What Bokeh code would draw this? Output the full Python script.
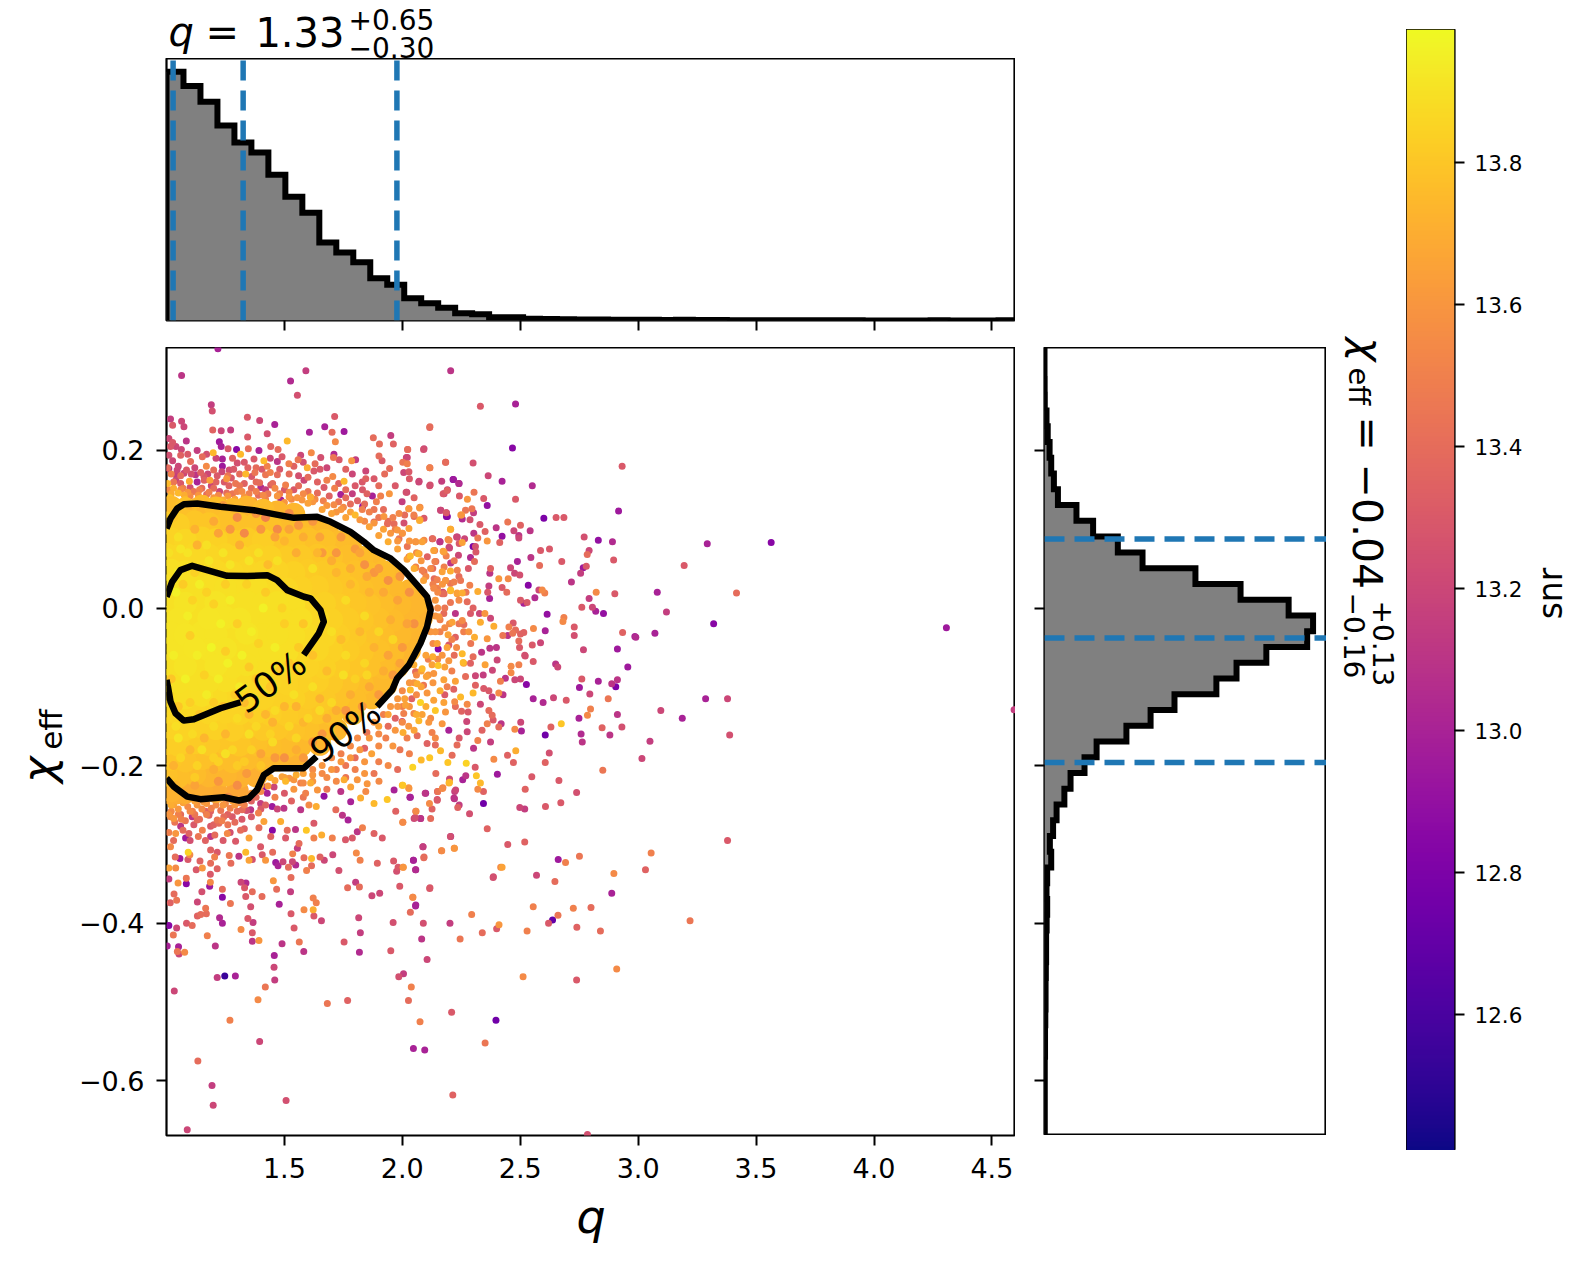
import numpy as np
from bokeh.embed import file_html
from bokeh.layouts import column, row
from bokeh.models import ColumnDataSource, FixedTicker, Label, LinearColorMapper, Range1d, Spacer
from bokeh.palettes import Plasma256
from bokeh.plotting import figure
from bokeh.resources import INLINE

Q_RANGE = (1.0, 4.6)
CHI_RANGE = (-0.6694, 0.3306)
SNR_RANGE = (12.409, 13.988)

q_ticks = [1.5, 2.0, 2.5, 3.0, 3.5, 4.0, 4.5]
q_tick_labels = ["1.5", "2.0", "2.5", "3.0", "3.5", "4.0", "4.5"]
chi_ticks = [-0.6, -0.4, -0.2, 0.0, 0.2]
chi_tick_labels = ["\u22120.6", "\u22120.4", "\u22120.2", "0.0", "0.2"]
snr_ticks = [12.6, 12.8, 13.0, 13.2, 13.4, 13.6, 13.8]
snr_tick_labels = ["12.6", "12.8", "13.0", "13.2", "13.4", "13.6", "13.8"]

# marginal histograms (normalised to their peak), 50 bins each
q_hist = [0.997, 0.94, 0.877, 0.781, 0.713, 0.673, 0.584, 0.496, 0.432, 0.313,
          0.273, 0.233, 0.169, 0.143, 0.089, 0.069, 0.051, 0.029, 0.025, 0.013,
          0.013, 0.007, 0.006, 0.005, 0.004, 0.004, 0.003, 0.003, 0.003, 0.002,
          0.003, 0.002, 0.002, 0.001, 0.001, 0.001, 0.001, 0.001, 0.001, 0.001,
          0.001, 0.0, 0.0, 0.0, 0.0, 0.001, 0.0, 0.0, 0.0, 0.001]
# listed from the top bin (largest chi) to the bottom one
chi_hist_top_down = [0.0, 0.0, 0.0005, 0.001, 0.0075, 0.012, 0.019, 0.025, 0.035, 0.05,
                     0.119, 0.181, 0.273, 0.365, 0.562, 0.73, 0.909, 1.0, 0.978, 0.826,
                     0.715, 0.64, 0.484, 0.395, 0.305, 0.194, 0.149, 0.097, 0.074, 0.045,
                     0.032, 0.02, 0.025, 0.01, 0.0075, 0.01, 0.008, 0.006, 0.006, 0.005,
                     0.004, 0.004, 0.003, 0.002, 0.002, 0.001, 0.001, 0.001, 0.001, 0.001]

q_quantiles = [1.028, 1.325, 1.977]
chi_quantiles = [0.0875, -0.038, -0.196]

# contours (q, chi): each level is broken where its label sits
contour_90_a = [(1.000, 0.1009), (1.017, 0.1136), (1.045, 0.1263), (1.074, 0.1318), (1.130, 0.1326),
                (1.229, 0.1284), (1.370, 0.1241), (1.455, 0.1191), (1.540, 0.1144), (1.639, 0.1157),
                (1.696, 0.1094), (1.780, 0.0967), (1.837, 0.0840), (1.879, 0.0734), (1.950, 0.0629),
                (2.007, 0.0481), (2.063, 0.0290), (2.105, 0.0143), (2.120, -0.0026), (2.105, -0.0237),
                (2.077, -0.0448), (2.028, -0.0723), (1.978, -0.0892), (1.957, -0.104), (1.893, -0.125)]
contour_90_b = [(1.636, -0.1885), (1.582, -0.2033), (1.512, -0.2033), (1.455, -0.2033), (1.413, -0.2118),
                (1.384, -0.2308), (1.349, -0.2414), (1.307, -0.2443), (1.243, -0.2401), (1.144, -0.2426),
                (1.088, -0.2393), (1.031, -0.2266), (1.000, -0.2160)]
contour_50_a = [(1.000, 0.0143), (1.024, 0.0333), (1.059, 0.0481), (1.109, 0.0536), (1.172, 0.0481),
                (1.257, 0.0409), (1.342, 0.0405), (1.427, 0.0417), (1.469, 0.0354), (1.512, 0.0227),
                (1.583, 0.0143), (1.611, 0.0122), (1.653, -0.0026), (1.667, -0.0174), (1.646, -0.0321),
                (1.582, -0.0596)]
contour_50_b = [(1.314, -0.1196), (1.229, -0.1272), (1.116, -0.1412), (1.073, -0.1429), (1.038, -0.1336),
                (1.017, -0.1188), (1.006, -0.0998), (1.000, -0.0913)]

# dense centre of the cloud (q, chi, snr), drawn as wider dots
core_points = [
    (1.02,.128,13.76),(1.08,.126,13.78),(1.15,.129,13.75),(1.21,.127,13.77),(1.28,.125,13.75),(1.34,.128,13.73),(1.41,.124,13.76),(1.47,.122,13.74),(1.54,.119,13.74),
    (1.00,.108,13.82),(1.05,.106,13.83),(1.12,.109,13.80),(1.18,.107,13.80),(1.25,.108,13.78),(1.31,.106,13.78),(1.38,.107,13.78),(1.44,.105,13.78),(1.51,.104,13.76),(1.57,.106,13.76),(1.64,.103,13.74),(1.68,.098,13.75),
    (1.02,.088,13.85),(1.08,.086,13.86),(1.15,.089,13.84),(1.21,.087,13.84),(1.28,.085,13.82),(1.34,.088,13.82),(1.41,.086,13.83),(1.47,.087,13.80),(1.54,.085,13.80),(1.60,.088,13.78),(1.67,.086,13.78),(1.73,.084,13.76),(1.78,.082,13.75),
    (1.00,.068,13.87),(1.05,.066,13.87),(1.12,.069,13.87),(1.18,.067,13.86),(1.25,.068,13.85),(1.31,.066,13.85),(1.38,.067,13.84),(1.44,.065,13.84),(1.51,.064,13.82),(1.57,.066,13.81),(1.64,.067,13.80),(1.70,.065,13.79),(1.77,.066,13.77),(1.83,.064,13.76),(1.88,.061,13.75),
    (1.02,.048,13.89),(1.08,.046,13.89),(1.15,.046,13.88),(1.21,.047,13.87),(1.28,.045,13.87),(1.34,.048,13.86),(1.41,.046,13.86),(1.47,.047,13.85),(1.54,.045,13.84),(1.60,.048,13.82),(1.67,.046,13.81),(1.73,.044,13.80),(1.80,.046,13.78),(1.86,.044,13.77),(1.92,.046,13.76),(1.96,.042,13.75),
    (1.00,.028,13.89),(1.05,.026,13.90),(1.12,.027,13.90),(1.18,.027,13.89),(1.25,.026,13.90),(1.31,.026,13.89),(1.38,.027,13.89),(1.44,.025,13.88),(1.51,.024,13.86),(1.57,.026,13.84),(1.64,.027,13.83),(1.70,.025,13.81),(1.77,.026,13.80),(1.83,.024,13.78),(1.90,.026,13.77),(1.96,.024,13.75),(2.03,.022,13.74),
    (1.02,.008,13.90),(1.08,.006,13.91),(1.15,.009,13.90),(1.21,.007,13.91),(1.28,.005,13.90),(1.34,.008,13.90),(1.41,.006,13.90),(1.47,.007,13.90),(1.54,.005,13.89),(1.60,.004,13.86),(1.67,.006,13.84),(1.73,.004,13.82),(1.80,.006,13.80),(1.86,.004,13.79),(1.92,.006,13.77),(1.99,.004,13.75),(2.05,.003,13.74),(2.07,.010,13.73),
    (1.00,-.012,13.90),(1.05,-.014,13.91),(1.12,-.011,13.90),(1.18,-.013,13.92),(1.25,-.012,13.91),(1.31,-.014,13.91),(1.38,-.013,13.90),(1.44,-.015,13.90),(1.51,-.016,13.89),(1.57,-.014,13.89),(1.64,-.013,13.87),(1.70,-.015,13.84),(1.77,-.014,13.82),(1.83,-.016,13.80),(1.90,-.014,13.78),(1.96,-.016,13.76),(2.03,-.018,13.74),(2.08,-.013,13.72),
    (1.02,-.032,13.91),(1.08,-.034,13.92),(1.15,-.031,13.91),(1.21,-.033,13.91),(1.28,-.035,13.90),(1.34,-.032,13.91),(1.41,-.034,13.90),(1.47,-.033,13.90),(1.54,-.035,13.89),(1.60,-.034,13.88),(1.67,-.036,13.86),(1.73,-.034,13.83),(1.80,-.036,13.81),(1.86,-.034,13.79),(1.92,-.036,13.77),(1.99,-.034,13.75),(2.05,-.036,13.73),
    (1.00,-.052,13.90),(1.05,-.054,13.91),(1.12,-.051,13.92),(1.18,-.053,13.91),(1.25,-.052,13.91),(1.31,-.054,13.90),(1.38,-.053,13.90),(1.44,-.055,13.90),(1.51,-.056,13.89),(1.57,-.054,13.87),(1.64,-.053,13.86),(1.70,-.055,13.84),(1.77,-.054,13.82),(1.83,-.056,13.80),(1.90,-.054,13.78),(1.96,-.056,13.76),(2.03,-.054,13.73),
    (1.02,-.072,13.90),(1.08,-.074,13.91),(1.15,-.071,13.90),(1.21,-.073,13.91),(1.28,-.075,13.90),(1.34,-.072,13.90),(1.41,-.074,13.89),(1.47,-.073,13.87),(1.54,-.075,13.86),(1.60,-.074,13.85),(1.67,-.076,13.84),(1.73,-.074,13.82),(1.80,-.076,13.80),(1.86,-.074,13.78),(1.92,-.076,13.76),(1.98,-.074,13.74),
    (1.00,-.092,13.88),(1.05,-.094,13.90),(1.12,-.091,13.90),(1.18,-.093,13.90),(1.25,-.092,13.89),(1.31,-.094,13.88),(1.38,-.093,13.87),(1.44,-.095,13.86),(1.51,-.096,13.85),(1.57,-.094,13.84),(1.64,-.093,13.83),(1.70,-.095,13.81),(1.77,-.094,13.79),(1.83,-.096,13.77),(1.90,-.094,13.75),(1.93,-.098,13.74),
    (1.02,-.112,13.87),(1.08,-.114,13.89),(1.15,-.111,13.89),(1.21,-.113,13.88),(1.28,-.115,13.87),(1.34,-.112,13.86),(1.41,-.114,13.85),(1.47,-.113,13.84),(1.54,-.115,13.84),(1.60,-.114,13.82),(1.67,-.116,13.81),(1.73,-.114,13.79),(1.80,-.116,13.77),(1.87,-.114,13.75),
    (1.00,-.132,13.86),(1.05,-.134,13.87),(1.12,-.131,13.87),(1.18,-.133,13.86),(1.25,-.132,13.85),(1.31,-.134,13.85),(1.38,-.133,13.84),(1.44,-.135,13.83),(1.51,-.136,13.82),(1.57,-.134,13.81),(1.64,-.133,13.80),(1.70,-.135,13.78),(1.79,-.134,13.75),
    (1.02,-.152,13.85),(1.08,-.154,13.85),(1.15,-.151,13.84),(1.21,-.153,13.84),(1.28,-.155,13.83),(1.34,-.152,13.82),(1.41,-.154,13.81),(1.47,-.153,13.80),(1.54,-.155,13.79),(1.60,-.154,13.78),(1.67,-.156,13.76),(1.72,-.154,13.74),
    (1.00,-.172,13.83),(1.05,-.174,13.83),(1.12,-.171,13.82),(1.18,-.173,13.81),(1.25,-.172,13.80),(1.31,-.174,13.80),(1.38,-.173,13.78),(1.44,-.175,13.77),(1.51,-.176,13.76),(1.57,-.174,13.75),(1.65,-.173,13.73),
    (1.02,-.192,13.80),(1.08,-.194,13.79),(1.15,-.191,13.78),(1.21,-.193,13.77),(1.28,-.195,13.77),(1.34,-.192,13.76),(1.41,-.194,13.75),(1.47,-.193,13.74),(1.55,-.192,13.72),
    (1.00,-.212,13.78),(1.05,-.214,13.77),(1.12,-.211,13.76),(1.18,-.213,13.74),(1.25,-.212,13.74),(1.31,-.214,13.72),(1.38,-.213,13.71),
    (1.02,-.232,13.72),(1.08,-.234,13.70),(1.15,-.231,13.70),(1.21,-.233,13.69),(1.30,-.232,13.67),
]

# single dots that break up the flat colour of the centre
texture_points = [
    (1.04,.02,13.96),(1.09,-.01,13.95),(1.14,.03,13.95),(1.19,-.05,13.97),(1.23,-.02,13.96),(1.27,.01,13.95),(1.32,-.06,13.96),(1.36,-.03,13.95),(1.41,.00,13.96),(1.46,-.05,13.95),
    (1.03,-.06,13.95),(1.08,-.09,13.96),(1.13,-.06,13.95),(1.17,-.11,13.94),(1.22,-.09,13.95),(1.26,-.07,13.96),(1.31,-.10,13.94),(1.05,.045,13.94),(1.11,.01,13.85),(1.17,.02,13.84),
    (1.25,.03,13.83),(1.34,.03,13.84),(1.42,.02,13.82),(1.50,-.02,13.83),(1.56,-.05,13.82),(1.48,-.08,13.81),(1.38,-.09,13.82),(1.29,-.11,13.81),(1.20,-.12,13.82),(1.10,-.12,13.83),
    (1.05,.09,13.90),(1.12,.10,13.72),(1.20,.11,13.68),(1.27,.10,13.60),(1.33,.095,13.55),(1.40,.10,13.60),(1.46,.09,13.66),(1.52,.10,13.66),(1.58,.09,13.70),(1.65,.09,13.66),
    (1.09,.07,13.91),(1.17,.08,13.90),(1.24,.07,13.91),(1.31,.08,13.70),(1.39,.07,13.90),(1.47,.06,13.90),(1.55,.07,13.70),(1.62,.05,13.89),(1.70,.06,13.70),(1.78,.05,13.70),
    (1.85,.04,13.68),(1.92,.02,13.68),(1.98,.01,13.66),(2.02,-.02,13.66),(1.96,-.04,13.86),(1.90,-.03,13.86),(1.84,-.01,13.88),(1.76,.01,13.88),(1.70,-.03,13.89),(1.76,-.06,13.88),
    (1.84,-.07,13.86),(1.92,-.08,13.70),(1.86,-.10,13.68),(1.78,-.11,13.70),(1.70,-.12,13.87),(1.62,-.10,13.89),(1.54,-.11,13.90),(1.46,-.13,13.88),(1.38,-.15,13.87),(1.30,-.14,13.88),
    (1.20,-.15,13.88),(1.11,-.16,13.88),(1.04,-.15,13.89),(1.06,-.19,13.86),(1.13,-.20,13.85),(1.20,-.19,13.84),(1.28,-.18,13.86),(1.36,-.18,13.84),(1.44,-.16,13.85),(1.52,-.15,13.86),
    (1.60,-.14,13.86),(1.68,-.14,13.70),(1.55,-.18,13.70),(1.46,-.19,13.62),(1.34,-.21,13.62),(1.22,-.22,13.60),(1.12,-.225,13.66),(1.04,-.225,13.74),(1.16,-.245,13.62),(1.26,-.24,13.58),
    (1.40,-.20,13.80),(1.30,-.20,13.82),(1.62,-.17,13.62),(1.72,-.13,13.70),(1.80,-.09,13.84),(1.94,-.06,13.66),(2.00,-.05,13.62),(2.05,-.02,13.58),(2.03,.02,13.58),(1.99,.04,13.60),
    (1.90,.05,13.62),(1.82,.07,13.66),(1.74,.09,13.62),(1.62,.11,13.60),(1.52,.12,13.55),(1.38,.12,13.60),(1.24,.13,13.62),(1.10,.13,13.74),(1.03,.115,13.80),(1.01,.07,13.90),
]

texture_points_2 = [
    (1.07,.03,13.82),(1.12,.045,13.84),(1.20,.005,13.84),(1.30,-.02,13.83),(1.39,-.045,13.84),(1.49,.00,13.84),(1.58,-.02,13.80),(1.10,-.035,13.83),(1.16,-.085,13.84),(1.25,-.055,13.83),
    (1.35,-.075,13.81),(1.44,-.10,13.80),(1.52,-.07,13.80),(1.62,-.06,13.78),(1.68,-.08,13.76),(1.74,-.04,13.76),(1.82,-.03,13.74),(1.88,-.05,13.72),(1.95,-.015,13.70),(1.99,-.07,13.66),
    (1.78,.03,13.74),(1.86,.02,13.72),(1.72,.045,13.74),(1.64,.07,13.74),(1.50,.085,13.74),(1.43,.055,13.76),(1.35,.06,13.92),(1.27,.055,13.92),(1.18,.06,13.92),(1.06,.075,13.92),
    (1.13,.08,13.72),(1.22,.095,13.66),(1.30,.115,13.55),(1.42,.115,13.50),(1.47,.10,13.55),(1.56,.105,13.60),(1.66,.07,13.62),(1.72,.07,13.60),(1.80,.075,13.62),(1.88,.045,13.60),
    (1.94,.035,13.58),(1.84,.055,13.58),(1.96,-.085,13.62),(1.90,-.11,13.62),(1.83,-.125,13.62),(1.76,-.13,13.60),(1.66,-.16,13.60),(1.58,-.19,13.62),(1.50,-.19,13.58),(1.40,-.185,13.66),
    (1.30,-.225,13.56),(1.20,-.205,13.70),(1.10,-.18,13.74),(1.03,-.20,13.72),(1.16,-.165,13.74),(1.25,-.16,13.74),(1.35,-.135,13.74),(1.45,-.145,13.72),(1.55,-.125,13.72),(1.65,-.115,13.72),
    (1.02,-.09,13.80),(1.05,-.125,13.80),(1.14,-.135,13.80),(1.24,-.125,13.78),(1.33,-.12,13.76),(1.42,-.135,13.74),(1.50,-.125,13.74),(1.58,-.145,13.74),(1.35,-.16,13.90),(1.25,-.185,13.90),
    (1.15,-.18,13.90),(1.05,-.165,13.92),(1.45,-.17,13.88),(1.55,-.165,13.86),(1.12,-.215,13.82),(1.22,-.195,13.84),(1.33,-.195,13.82),(1.65,-.13,13.88),(1.75,-.085,13.90),(1.85,-.085,13.86),
]

# thick bands of single dots around the centre (q, chi, snr)
band_points = [
    (1.005,.158,13.75),(1.03,.152,13.7),(1.05,.146,13.75),(1.075,.143,13.7),(1.10,.142,13.55),(1.135,.143,13.6),(1.17,.144,13.4),(1.20,.152,13.4),(1.225,.148,13.2),(1.255,.146,13.4),
    (1.28,.145,13.45),(1.31,.155,13.45),(1.35,.145,13.5),(1.39,.143,13.4),(1.42,.150,13.15),(1.46,.152,13.55),(1.485,.137,13.0),(1.52,.147,13.55),(1.555,.140,13.6),(1.575,.137,13.6),
    (1.61,.141,13.65),(1.665,.136,13.5),(1.71,.131,13.55),(1.75,.128,13.55),(1.80,.118,13.75),(1.83,.125,13.5),(1.86,.122,13.5),(1.88,.108,13.6),(1.92,.100,13.65),(1.95,.095,13.6),(1.98,.085,13.6),
    (1.04,.162,13.2),(1.06,.158,13.3),(1.10,.153,13.25),(1.13,.160,13.0),(1.16,.162,13.35),(1.19,.155,13.2),(1.245,.160,13.3),(1.275,.165,13.3),(1.33,.158,13.35),(1.38,.160,13.4),
    (1.40,.153,13.05),(1.45,.158,13.4),(1.50,.150,13.3),(1.54,.150,13.3),(1.60,.148,13.45),(1.64,.146,13.4),(1.69,.142,13.35),(1.73,.135,13.45),(1.78,.132,13.4),(1.81,.136,13.35),
    (1.015,.140,13.8),(1.04,.135,13.8),(1.08,.138,13.75),(1.12,.135,13.7),(1.16,.139,13.65),(1.20,.140,13.6),(1.24,.137,13.7),(1.29,.138,13.65),(1.33,.141,13.6),(1.37,.136,13.6),(1.42,.138,13.5),(1.50,.134,13.6),(1.53,.138,13.55),(1.60,.133,13.65),(1.66,.125,13.65),(1.70,.120,13.65),
    (1.01,-.245,13.7),(1.03,-.250,13.65),(1.05,-.255,13.6),(1.07,-.247,13.65),(1.09,-.252,13.55),(1.11,-.258,13.5),(1.13,-.250,13.6),(1.15,-.255,13.55),(1.17,-.248,13.6),(1.19,-.254,13.5),
    (1.21,-.250,13.55),(1.23,-.257,13.45),(1.25,-.248,13.55),(1.27,-.254,13.5),(1.29,-.250,13.6),(1.31,-.247,13.55),(1.33,-.250,13.5),(1.36,-.245,13.35),(1.38,-.240,13.4),(1.40,-.233,13.55),
    (1.43,-.226,13.6),(1.46,-.219,13.65),(1.49,-.214,13.65),(1.52,-.216,13.6),(1.55,-.212,13.7),(1.58,-.210,13.65),(1.62,-.205,13.55),(1.66,-.200,13.6),(1.70,-.190,13.55),(1.74,-.185,13.5),
    (1.78,-.175,13.55),(1.81,-.165,13.55),(1.85,-.158,13.45),(1.88,-.145,13.6),(1.92,-.135,13.5),(1.95,-.125,13.6),(1.98,-.115,13.6),(2.00,-.105,13.55),(2.03,-.095,13.6),(2.06,-.085,13.55),
    (1.02,-.258,13.55),(1.06,-.262,13.4),(1.12,-.262,13.45),(1.18,-.263,13.35),(1.26,-.262,13.35),(1.30,-.258,13.4),(1.34,-.257,13.25),(1.68,-.215,13.55),(1.72,-.205,13.5),(1.76,-.200,13.45),
    (1.80,-.190,13.4),(1.84,-.178,13.35),(1.90,-.160,13.55),(1.94,-.150,13.4),(1.97,-.140,13.35),(2.00,-.125,13.5),(2.04,-.115,13.35),(2.09,-.098,13.45),(2.11,-.065,13.5),(2.13,-.045,13.55),
    (2.14,-.030,13.6),(2.12,.000,13.55),(2.14,.010,13.6),(2.13,.030,13.5),(2.10,.040,13.55),(2.08,.060,13.6),(2.06,.070,13.55),(2.03,.085,13.6),(2.00,.095,13.55),(2.16,-.015,13.5),
]

# more of the crowded ring, read by region
top_ring_points = [
    (1.005,.178,13.4),(1.02,.170,13.5),(1.045,.175,13.2),(1.06,.168,13.4),(1.085,.175,13.3),(1.105,.170,13.25),(1.12,.178,13.2),(1.145,.172,13.35),(1.175,.170,13.2),(1.20,.175,13.4),
    (1.215,.168,13.3),(1.235,.173,13.2),(1.26,.168,13.45),(1.285,.176,13.3),(1.31,.170,13.4),(1.345,.178,13.35),(1.375,.172,13.45),(1.405,.176,13.3),(1.44,.172,13.5),(1.48,.176,13.3),
    (1.52,.170,13.4),(1.56,.168,13.25),(1.60,.166,13.4),(1.64,.160,13.35),(1.68,.162,13.5),(1.73,.158,13.35),(1.76,.150,13.4),(1.80,.155,13.3),(1.85,.145,13.35),(1.89,.135,13.5),
    (1.01,.150,13.55),(1.03,.160,13.45),(1.07,.152,13.5),(1.115,.148,13.45),(1.15,.152,13.4),(1.21,.160,13.35),(1.265,.155,13.35),(1.30,.148,13.5),(1.36,.152,13.4),(1.43,.145,13.45),
    (1.48,.145,13.5),(1.56,.155,13.4),(1.63,.138,13.55),(1.68,.130,13.6),(1.72,.122,13.6),(1.76,.115,13.65),(1.84,.110,13.55),(1.90,.115,13.45),(1.94,.110,13.4),(1.97,.100,13.5),
    (1.01,.215,13.2),(1.04,.205,13.2),(1.09,.195,13.3),(1.13,.200,13.15),(1.17,.195,13.25),(1.21,.190,13.2),(1.28,.190,13.35),(1.33,.185,13.3),(1.38,.178,13.4),(1.44,.190,13.2),
    (1.49,.192,13.3),(1.54,.180,13.35),(1.58,.185,13.25),(1.63,.183,13.4),(1.68,.178,13.2),(1.76,.176,13.35),(1.83,.160,13.3),(1.90,.155,13.4),(1.97,.155,13.3),(2.05,.140,13.35),
    (1.02,.145,13.7),(1.06,.150,13.55),(1.09,.147,13.6),(1.14,.150,13.5),(1.18,.147,13.5),(1.22,.143,13.55),(1.26,.142,13.6),(1.32,.148,13.55),(1.38,.148,13.5),(1.41,.143,13.55),
    (1.47,.142,13.6),(1.52,.141,13.6),(1.58,.145,13.55),(1.62,.135,13.6),(1.74,.125,13.6),(1.78,.122,13.65),(1.82,.112,13.6),(1.86,.103,13.65),(1.90,.092,13.65),(1.94,.084,13.7),
    (1.98,.075,13.65),(2.02,.062,13.65),(2.05,.050,13.7),(2.09,.035,13.65),(1.76,.140,13.4),(1.84,.132,13.4),(1.88,.125,13.45),(1.92,.125,13.4),(1.96,.115,13.5),(2.01,.118,13.4),
]

side_ring_points = [
    (2.15,.00,13.55),(2.17,.03,13.6),(2.18,.00,13.45),(2.20,-.02,13.55),(2.16,-.03,13.5),(2.19,-.05,13.65),(2.22,-.06,13.4),(2.15,-.065,13.55),(2.18,-.075,13.65),(2.21,-.08,13.5),
    (2.13,-.095,13.6),(2.16,-.105,13.7),(2.19,-.10,13.5),(2.11,-.085,13.6),(2.08,-.10,13.65),(2.10,-.125,13.7),(2.06,-.11,13.55),(2.03,-.125,13.6),(2.06,-.135,13.7),(2.12,-.14,13.55),
    (2.00,-.145,13.55),(1.97,-.155,13.6),(2.02,-.165,13.5),(2.05,-.155,13.65),(1.93,-.165,13.5),(1.96,-.175,13.6),(1.99,-.18,13.45),(2.03,-.185,13.5),(1.90,-.175,13.55),(1.87,-.185,13.65),
    (1.90,-.195,13.5),(1.94,-.20,13.55),(1.98,-.205,13.4),(1.84,-.195,13.6),(1.80,-.205,13.5),(1.84,-.21,13.6),(1.88,-.21,13.45),(1.76,-.215,13.45),(1.72,-.22,13.55),(1.68,-.23,13.45),
    (2.24,.01,13.55),(2.27,.02,13.45),(2.30,.00,13.35),(2.26,-.03,13.5),(2.29,-.045,13.45),(2.23,-.05,13.55),(2.26,-.07,13.6),(2.24,.04,13.4),(2.28,.05,13.3),(2.22,.06,13.45),
    (1.01,-.262,13.6),(1.035,-.272,13.45),(1.05,-.262,13.5),(1.08,-.27,13.45),(1.10,-.258,13.55),(1.14,-.268,13.4),(1.17,-.262,13.5),(1.20,-.275,13.35),(1.235,-.27,13.5),(1.26,-.275,13.45),
    (1.29,-.272,13.4),(1.32,-.268,13.3),(1.36,-.265,13.3),(1.39,-.26,13.5),(1.42,-.25,13.35),(1.46,-.24,13.5),(1.50,-.235,13.3),(1.54,-.23,13.6),(1.58,-.24,13.45),(1.62,-.22,13.6),
    (1.01,-.285,13.5),(1.03,-.295,13.4),(1.07,-.282,13.4),(1.10,-.295,13.25),(1.135,-.29,13.45),(1.165,-.295,13.35),(1.205,-.288,13.4),(1.24,-.295,13.3),(1.27,-.285,13.25),(1.33,-.28,13.35),
    (1.02,-.25,13.7),(1.045,-.245,13.7),(1.08,-.243,13.7),(1.12,-.245,13.65),(1.16,-.24,13.65),(1.20,-.242,13.6),(1.24,-.25,13.6),(1.28,-.245,13.65),(1.32,-.24,13.6),(1.36,-.235,13.6),
    (1.40,-.225,13.65),(1.44,-.215,13.7),(1.50,-.215,13.65),(1.54,-.218,13.6),(1.58,-.222,13.55),(1.62,-.212,13.6),(1.66,-.21,13.55),(1.70,-.205,13.6),(1.74,-.195,13.6),(1.78,-.19,13.6),
    (1.82,-.18,13.6),(1.86,-.165,13.6),(1.90,-.15,13.65),(1.94,-.135,13.65),(1.98,-.125,13.6),(2.01,-.115,13.65),(2.05,-.095,13.6),(2.08,-.08,13.65),(2.10,-.06,13.65),(2.12,-.03,13.6),
    (2.14,-.01,13.6),(2.15,.02,13.55),(2.12,.05,13.55),(2.18,-.025,13.55),(2.21,-.04,13.5),(2.24,-.02,13.45),(1.40,-.255,13.3),(1.47,-.255,13.2),(1.53,-.245,13.35),(1.59,-.235,13.5),
]

upper_left_points = [
    (1.218,.329,13.0),(1.064,.295,13.1),(1.591,.301,13.15),(1.526,.288,13.05),(1.555,.270,13.25),(2.205,.301,13.1),(1.190,.258,13.15),(1.194,.250,13.25),(1.017,.240,13.15),(1.064,.237,13.2),
    (1.074,.230,13.2),(1.026,.232,13.3),(1.343,.242,13.3),(1.395,.238,13.2),(1.459,.233,13.0),(1.713,.243,13.3),(1.196,.226,13.35),(1.232,.225,13.2),(1.272,.226,13.15),(1.344,.217,13.3),
    (1.427,.221,13.25),(1.606,.223,13.0),(1.671,.230,13.0),(1.702,.223,13.4),(1.753,.224,12.95),(2.117,.230,13.4),(1.951,.219,13.15),(1.877,.216,13.4),(1.716,.211,13.55),(1.512,.212,13.75),
    (1.084,.212,13.1),(1.026,.210,13.3),(1.224,.211,12.95),(1.232,.205,13.0),(1.903,.208,13.4),(1.962,.208,13.35),(1.017,.205,13.3),(1.063,.201,13.2),(1.261,.202,13.3),(1.297,.201,12.85),
    (1.347,.202,13.4),(1.392,.200,13.0),(1.442,.205,13.35),(1.473,.201,13.4),(1.198,.197,13.75),(1.314,.195,13.75),(2.023,.201,13.4),(2.092,.202,13.2),(1.569,.194,13.2),(1.710,.195,13.05),
    (1.614,.197,13.55),(1.060,.194,13.35),(1.152,.192,13.4),(1.901,.193,13.4),(2.021,.191,13.2),(1.654,.191,13.25),(1.010,.194,13.25),(1.026,.187,13.2),(1.102,.186,13.4),(1.237,.189,13.0),
    (1.237,.180,12.95),(1.413,.187,13.75),(1.470,.186,13.1),(1.371,.189,13.3),(1.558,.188,13.45),(1.708,.191,13.45),(1.785,.187,13.6),(1.802,.188,13.15),(1.914,.187,13.3),(2.002,.185,13.45),
    (2.184,.185,13.35),(2.021,.183,13.5),(1.050,.180,13.2),(1.169,.180,13.55),(1.300,.184,13.25),(1.519,.183,13.5),(1.597,.178,13.7),(1.427,.180,13.5),(2.117,.178,13.4),(1.946,.177,13.4),
    (1.732,.188,13.3),(1.625,.174,13.3),(1.651,.176,13.3),(1.845,.174,13.2),(2.028,.173,13.3),(1.266,.175,13.25),(1.010,.177,13.1),(1.039,.169,13.15),(1.074,.171,13.2),(1.123,.169,13.1),
    (1.159,.167,13.3),(1.336,.170,13.75),(1.361,.167,13.3),(1.420,.169,13.45),(1.470,.169,13.4),(1.583,.162,13.2),(1.705,.167,13.55),(1.788,.170,13.2),(1.845,.164,13.35),(1.880,.164,13.3),
    (1.925,.170,13.4),(2.071,.161,13.2),(2.217,.163,12.95),(2.241,.158,13.0),(2.118,.156,13.25),(1.753,.161,13.75),(1.184,.162,13.65),(1.255,.164,13.6),(1.097,.161,13.7),(1.293,.158,13.45),
    (1.395,.159,13.4),(1.442,.156,13.3),(1.505,.156,13.5),(1.668,.153,13.3),(1.713,.152,13.5),(1.788,.145,13.15),(1.831,.150,13.3),(1.873,.142,13.0),(1.908,.142,13.5),(1.945,.145,13.6),
    (2.019,.147,13.2),(2.191,.150,13.15),(2.177,.145,13.2),(1.739,.144,13.0),(1.611,.141,13.7),(1.832,.129,12.9),(2.028,.126,13.6),(2.075,.128,13.55),(2.163,.124,13.2),(2.187,.121,13.1),
    (2.191,.116,12.85),(1.922,.116,13.6),(1.986,.120,13.55),(2.050,.116,13.4),(2.092,.114,13.3),(2.075,.112,13.6),(2.248,.118,13.6),(1.880,.109,13.35),(1.965,.107,13.4),(2.007,.108,13.25),
    (2.205,.100,13.6),(2.028,.101,13.65),(1.979,.099,13.6),(1.937,.107,13.4),(2.000,.095,13.6),(2.233,.090,13.1),(2.198,.086,13.5),(2.160,.084,13.1),(2.127,.088,13.3),(2.092,.086,13.55),
    (2.057,.084,13.6),(1.986,.088,13.45),(2.021,.078,13.45),(2.241,.082,13.3),(2.071,.069,13.6),(2.137,.073,13.5),(2.198,.077,13.2),(2.177,.071,13.6),(2.028,.065,13.5),(2.106,.065,13.35),
    (2.205,.057,13.1),(2.142,.059,13.4),(2.057,.052,13.5),(2.177,.052,13.5),(2.092,.046,13.45),(2.233,.048,13.5),(2.135,.037,13.4),(2.184,.035,13.5),(2.219,.033,13.5),(2.149,.025,13.5),
    (2.205,.023,13.75),(2.233,.018,13.6),(2.177,.018,13.4),
]

lower_left_points = [
    (1.060,-.244,13.6),(1.017,-.265,13.55),(1.031,-.267,13.6),(1.063,-.268,13.5),(1.109,-.265,13.1),(1.130,-.269,13.4),(1.166,-.258,13.35),(1.187,-.258,13.35),(1.215,-.269,13.45),(1.243,-.265,13.4),
    (1.279,-.265,13.3),(1.321,-.256,13.4),(1.357,-.256,13.1),(1.399,-.248,13.15),(1.448,-.252,12.95),(1.498,-.254,13.1),(1.569,-.256,13.1),(1.604,-.250,13.55),(1.635,-.252,13.7),(1.668,-.239,12.9),
    (1.739,-.233,13.1),(1.781,-.246,13.0),(1.823,-.241,13.7),(1.880,-.248,13.75),(1.936,-.243,13.8),(1.965,-.231,13.0),(2.032,-.240,13.0),(2.099,-.235,13.0),(2.148,-.243,13.25),(2.219,-.241,13.1),
    (2.226,-.231,13.2),(2.198,-.222,13.7),(2.170,-.229,13.55),(2.142,-.210,13.4),(2.149,-.233,13.25),(2.028,-.229,13.6),(2.000,-.225,13.7),(1.901,-.220,13.55),(1.851,-.223,13.6),(1.845,-.233,13.55),
    (1.809,-.218,13.6),(1.781,-.227,13.65),(1.753,-.218,13.7),(1.640,-.231,13.6),(1.611,-.222,13.7),(1.569,-.222,13.5),(1.505,-.220,13.75),(1.456,-.227,13.2),(1.427,-.235,13.0),(1.413,-.227,12.9),
    (1.718,-.256,13.4),(1.746,-.263,13.1),(1.770,-.269,13.0),(1.831,-.279,13.5),(1.809,-.284,13.1),(1.880,-.286,13.35),(1.915,-.292,13.3),(1.972,-.258,13.35),(2.057,-.258,13.4),(2.050,-.267,13.2),
    (2.078,-.267,13.1),(2.002,-.272,13.55),(2.120,-.267,13.4),(2.205,-.290,13.0),(1.484,-.271,13.7),(1.512,-.282,13.4),(1.547,-.281,13.1),(1.449,-.282,12.85),(1.593,-.282,13.8),(1.625,-.273,13.3),
    (1.658,-.288,13.7),(1.625,-.292,13.5),(1.562,-.299,13.4),(1.505,-.292,13.3),(1.442,-.290,13.35),(1.413,-.271,13.65),(1.392,-.279,13.4),(1.350,-.292,13.65),(1.314,-.282,13.4),(1.258,-.286,13.55),
    (1.222,-.273,13.4),(1.187,-.277,13.3),(1.152,-.282,13.5),(1.116,-.275,13.3),(1.095,-.286,13.35),(1.060,-.277,13.1),(1.039,-.286,13.6),(1.081,-.292,12.95),(1.187,-.290,13.1),(1.293,-.296,13.3),
    (1.399,-.303,13.3),(1.703,-.292,13.5),(1.759,-.294,13.3),(1.788,-.292,13.3),(1.017,-.303,13.55),
]

lower_points = [
    (1.010,-.403,12.85),(1.043,-.406,13.2),(1.085,-.400,13.3),(1.109,-.403,13.4),(1.029,-.415,13.45),(1.173,-.416,13.5),(1.316,-.408,13.55),(1.364,-.412,13.3),(1.364,-.423,13.1),(1.392,-.422,13.6),
    (1.207,-.429,13.1),(1.051,-.430,13.0),(1.003,-.429,13.0),(1.046,-.436,13.45),(1.077,-.437,13.55),(1.053,-.439,13.2),(1.490,-.426,13.1),(1.563,-.424,13.45),(1.582,-.436,13.1),(1.753,-.424,13.3),
    (1.818,-.437,13.05),(1.951,-.435,13.3),(2.082,-.420,13.1),(2.105,-.446,13.2),(1.457,-.441,13.0),(1.456,-.456,13.2),(1.459,-.472,13.15),(1.419,-.481,13.45),(1.388,-.497,13.55),(1.292,-.467,13.0),
    (1.247,-.467,12.55),(1.215,-.469,13.15),(1.033,-.486,13.2),(1.269,-.523,13.5),(1.395,-.550,13.2),(1.133,-.575,13.4),(1.193,-.606,13.15),(1.198,-.631,13.2),(1.507,-.625,13.25),(1.088,-.662,13.2),
    (1.682,-.502,13.45),(1.768,-.498,13.35),(2.026,-.498,13.4),(2.038,-.481,13.5),(1.985,-.468,13.25),(2.005,-.464,13.15),(2.075,-.525,13.5),(2.209,-.513,13.3),(2.397,-.523,12.75),(2.351,-.552,13.45),
    (2.047,-.559,13.0),(2.095,-.561,13.0),(2.214,-.618,13.35),(1.625,-.391,13.3),(1.657,-.397,13.2),(1.541,-.406,13.3),(1.528,-.388,13.3),(1.583,-.383,13.55),(1.622,-.383,13.7),(1.635,-.374,13.5),
    (1.622,-.368,13.5),(1.478,-.376,13.0),(1.357,-.379,13.25),(1.345,-.394,13.3),(1.367,-.399,13.15),(1.237,-.400,13.0),(1.225,-.393,13.05),(1.166,-.381,13.45),(1.169,-.388,13.4),(1.145,-.389,13.4),
    (1.131,-.391,13.35),(1.131,-.373,13.2),(1.016,-.374,13.35),(1.043,-.371,13.45),(1.032,-.363,13.4),(1.150,-.360,13.25),(1.237,-.367,12.85),(1.271,-.375,13.45),(1.336,-.366,13.3),(1.405,-.366,13.4),
    (1.467,-.357,13.4),(1.526,-.360,13.15),(1.364,-.360,13.4),(1.331,-.355,13.3),(1.316,-.348,13.2),(1.337,-.349,13.05),(1.237,-.357,13.4),(1.186,-.348,13.55),(1.183,-.353,12.95),(1.084,-.350,12.85),
    (1.049,-.349,13.6),(1.010,-.344,13.15),(1.084,-.343,13.45),(1.186,-.338,13.3),(1.126,-.332,13.3),(1.039,-.330,13.55),(1.010,-.330,13.65),(1.453,-.346,13.6),(1.528,-.342,13.4),(1.731,-.333,13.25),
    (1.594,-.333,13.5),(1.802,-.348,13.15),(1.768,-.355,13.4),(1.818,-.354,13.4),(1.871,-.365,13.2),(1.904,-.362,13.2),(1.989,-.353,13.3),(2.117,-.355,13.3),(2.045,-.367,13.55),(2.057,-.377,13.0),
    (2.034,-.386,13.4),(1.961,-.399,13.25),(2.089,-.400,13.25),(2.202,-.400,13.15),(2.294,-.389,13.5),(2.339,-.412,13.4),(2.400,-.407,13.3),(2.245,-.420,13.45),(1.815,-.393,13.2),(1.822,-.412,13.15),
    (2.386,-.341,13.25),(2.047,-.320,13.0),(2.057,-.332,13.05),(2.092,-.316,13.4),(2.088,-.303,13.15),(2.167,-.308,13.55),(2.221,-.305,13.6),(2.004,-.329,13.6),(1.982,-.329,13.3),(1.976,-.334,13.25),
    (1.963,-.321,13.3),(1.894,-.324,13.35),(1.821,-.320,13.5),(1.805,-.311,13.55),(1.705,-.313,13.2),(1.669,-.320,13.2),(1.651,-.316,13.35),(1.615,-.318,13.75),(1.615,-.327,13.4),(1.583,-.317,13.4),
    (1.555,-.305,13.15),(1.535,-.312,13.5),(1.534,-.322,13.2),(1.517,-.329,13.4),(1.548,-.326,13.05),(1.463,-.323,12.95),(1.473,-.327,13.0),(1.494,-.322,13.2),(1.450,-.310,13.4),(1.420,-.320,13.6),
    (1.406,-.313,13.3),(1.350,-.320,13.65),(1.364,-.319,13.25),(1.336,-.310,13.75),(1.307,-.315,13.1),(1.266,-.314,13.45),(1.273,-.324,13.4),(1.215,-.310,13.3),(1.204,-.316,13.5),(1.187,-.307,13.35),
    (1.187,-.324,13.4),(1.215,-.331,13.35),(1.152,-.330,13.6),(1.142,-.321,13.35),(1.092,-.310,13.85),(1.099,-.313,13.55),(1.057,-.318,12.95),(1.037,-.316,13.4),(1.091,-.319,13.3),(2.417,-.329,13.55),(2.410,-.402,13.6),
]

right_upper_points = [
    (2.331,.256,13.3),(2.480,.259,13.0),(2.116,.229,13.35),(2.467,.203,12.85),(2.090,.201,13.25),(2.022,.201,13.4),(2.183,.185,13.4),(2.300,.184,13.25),(2.116,.178,13.5),(2.932,.180,13.3),
    (2.017,.191,13.2),(2.006,.172,13.2),(2.030,.164,13.3),(2.070,.160,13.2),(2.116,.155,13.25),(2.167,.161,13.15),(2.215,.163,12.85),(2.239,.158,13.05),(2.364,.168,13.2),(2.423,.161,13.0),
    (2.551,.155,13.05),(2.190,.149,13.35),(2.173,.145,13.3),(2.242,.142,13.3),(2.304,.147,13.45),(2.345,.139,13.3),(2.276,.138,13.6),(2.480,.138,13.3),(2.360,.130,12.9),(2.016,.147,13.25),
    (1.999,.135,13.15),(2.162,.124,13.2),(2.186,.121,13.3),(2.187,.116,12.85),(2.268,.124,13.45),(2.295,.126,13.45),(2.302,.121,13.15),(2.251,.118,13.6),(2.254,.113,13.05),(2.287,.112,13.25),
    (2.600,.114,12.8),(2.652,.115,13.3),(2.685,.115,13.3),(2.917,.123,12.95),(2.447,.109,13.45),(2.329,.106,13.3),(2.501,.105,13.35),(2.398,.102,13.1),(2.473,.098,13.2),(2.542,.098,13.1),
    (2.204,.100,13.7),(2.351,.097,13.35),(2.303,.095,13.1),(2.494,.092,13.1),(2.423,.091,12.9),(2.771,.090,13.25),(2.831,.086,12.9),(2.891,.084,13.05),(2.494,.089,13.2),(2.413,.083,13.35),
    (2.360,.085,13.6),(2.320,.089,13.45),(2.264,.088,13.2),(2.230,.090,13.2),(2.310,.078,13.25),(2.300,.078,12.8),(2.312,.071,13.3),(2.586,.073,13.3),(2.624,.075,13.3),(2.792,.073,13.2),
    (2.784,.068,13.4),(2.238,.067,13.2),(2.289,.064,13.05),(2.306,.059,13.4),(2.545,.064,13.1),(2.676,.059,13.3),(2.896,.061,13.3),(2.488,.059,13.0),(2.374,.050,13.35),(2.582,.054,13.4),
    (2.459,.051,13.2),(2.780,.053,13.3),(2.767,.051,12.95),(3.195,.054,13.3),(2.371,.044,13.1),(2.756,.044,13.15),(2.476,.044,13.2),(2.498,.042,13.25),(2.409,.037,13.6),(2.449,.037,13.55),
    (2.717,.033,13.1),(2.367,.028,13.15),(2.534,.029,12.85),(2.423,.026,13.3),(2.579,.023,13.2),(2.593,.023,13.55),(2.604,.019,13.5),(2.443,.020,13.4),(2.362,.020,13.3),(2.822,.020,13.55),
    (2.901,.018,13.3),(3.081,.020,13.0),(2.370,.012,13.0),(2.792,.012,13.15),(2.562,.013,13.05),(2.501,.010,13.3),(2.529,.007,13.3),(2.515,.006,13.0),(2.761,.001,13.3),(2.806,.001,13.2),
    (2.820,-.004,13.0),(2.853,-.007,12.9),(3.120,-.005,13.15),(2.614,-.008,12.9),(2.685,-.012,13.5),(2.681,-.017,13.55),(2.729,-.024,13.3),(2.556,-.026,13.55),(2.606,-.029,13.0),(2.934,-.031,13.35),
    (2.729,-.035,13.25),(2.986,-.036,13.0),(2.990,-.037,13.05),(3.071,-.032,13.0),(2.551,-.047,13.3),(2.586,-.044,13.2),(2.521,-.061,13.25),(2.768,-.053,13.2),(2.912,-.052,12.95),(2.501,-.033,13.35),
    (2.480,-.028,13.4),(2.515,-.031,13.35),(2.470,-.019,13.3),(2.452,-.024,13.5),(2.426,-.035,13.45),(2.447,-.035,13.1),(2.468,-.032,13.45),(2.494,-.042,13.4),(2.497,-.050,13.3),(2.399,-.050,13.1),
    (2.371,-.051,13.1),(2.336,-.056,13.1),(2.300,-.062,13.4),(2.360,-.039,13.6),(2.374,-.013,13.2),(2.388,-.023,13.7),(2.350,-.007,13.6),(2.320,.021,13.7),(2.286,.029,13.5),(2.247,.035,13.45),
    (2.204,.022,13.7),(2.232,.019,13.65),(2.254,.019,13.7),(2.275,.008,13.4),(2.204,.007,13.45),(2.172,.020,13.2),(2.133,.073,13.65),(2.084,.084,13.65),(2.056,.084,13.6),(2.073,.127,13.6),
    (2.027,.126,13.6),(2.049,.118,13.5),(2.073,.111,13.7),(2.129,.088,13.4),(2.194,.087,13.55),(2.254,.083,13.65),(2.159,.084,13.1),(2.200,.076,13.2),(2.034,.066,13.75),(2.067,.069,13.7),
    (2.138,.059,13.5),(2.173,.072,13.65),(2.186,.066,13.5),(2.204,.047,13.7),(2.056,.051,13.55),(2.084,.048,13.5),(2.129,.050,13.4),(2.169,.046,13.65),(2.148,.036,13.5),(2.204,.031,13.45),
    (2.183,.035,13.6),(2.133,.025,13.55),(2.169,.018,13.4),(2.225,-.007,13.1),(2.176,-.007,13.4),(2.155,-.011,13.6),(2.211,-.018,13.65),(2.254,-.016,13.55),(2.289,-.007,13.3),(2.327,-.007,13.2),
    (2.331,-.018,13.7),(2.306,-.037,13.7),(2.282,-.030,13.6),(2.261,-.021,13.4),(2.194,-.034,13.65),(2.225,-.037,13.35),(2.148,-.045,13.65),(2.152,-.052,12.85),(2.197,-.047,13.3),(2.254,-.058,13.75),
]

right_lower_points = [
    (2.956,-.075,12.95),(2.650,-.071,13.1),(2.659,-.075,13.2),(2.555,-.068,13.3),(2.519,-.060,13.25),(2.761,-.090,13.3),(2.831,-.093,13.0),(2.912,-.091,13.1),(2.888,-.096,13.1),(2.905,-.100,12.8),
    (2.751,-.101,12.95),(2.526,-.097,12.85),(2.795,-.109,13.2),(2.873,-.115,13.45),(2.555,-.115,13.0),(2.641,-.114,13.2),(2.695,-.117,13.3),(2.597,-.120,13.05),(3.096,-.130,13.2),(3.187,-.140,13.0),
    (2.798,-.128,13.5),(2.785,-.136,13.55),(2.912,-.135,13.1),(2.749,-.140,13.0),(2.674,-.147,13.8),(2.630,-.151,13.35),(2.502,-.145,13.2),(2.419,-.147,13.1),(2.409,-.151,13.4),(2.477,-.154,13.55),
    (2.505,-.156,13.0),(2.847,-.152,13.35),(2.931,-.151,13.25),(2.758,-.160,13.05),(2.763,-.170,13.1),(2.606,-.161,12.75),(2.880,-.161,13.1),(3.050,-.169,13.15),(2.374,-.170,13.15),(2.320,-.168,13.5),
    (2.232,-.174,13.4),(2.241,-.165,13.3),(2.302,-.178,13.1),(2.481,-.181,13.7),(2.623,-.184,13.25),(2.446,-.187,13.35),(2.388,-.192,13.55),(2.471,-.196,13.35),(2.606,-.196,13.35),(3.016,-.191,13.2),
    (2.850,-.206,13.45),(2.271,-.197,13.85),(2.309,-.202,13.3),(2.193,-.196,13.8),(2.162,-.181,13.75),(2.211,-.187,13.4),(2.116,-.190,13.8),(2.080,-.193,13.75),(2.044,-.202,13.85),(2.403,-.211,12.95),
    (2.549,-.214,13.3),(2.664,-.219,13.3),(2.314,-.213,13.8),(2.269,-.213,13.1),(2.256,-.218,13.0),(2.331,-.222,13.75),(2.320,-.230,13.55),(2.344,-.233,13.35),(2.200,-.221,13.75),(2.200,-.217,13.2),
    (2.172,-.228,13.5),(2.150,-.233,13.45),(2.222,-.233,13.15),(2.221,-.242,13.1),(2.521,-.230,13.35),(2.739,-.234,13.25),(2.672,-.247,13.3),(2.607,-.252,13.3),(2.498,-.253,13.2),(2.519,-.255,13.15),
    (2.344,-.248,12.75),(2.241,-.250,13.15),(2.235,-.253,13.35),(2.285,-.261,13.25),(2.148,-.244,13.3),(2.115,-.248,13.55),(2.126,-.255,13.35),(2.097,-.235,13.1),(2.034,-.240,12.95),(2.027,-.228,13.6),
    (2.002,-.225,13.8),(2.058,-.258,13.55),(2.054,-.266,13.25),(2.077,-.267,13.1),(2.002,-.272,13.55),(2.360,-.280,13.35),(2.204,-.290,13.25),(2.087,-.303,13.15),(2.447,-.300,13.3),(2.519,-.297,13.35),
    (2.166,-.308,13.55),(2.220,-.305,13.55),(2.047,-.320,13.0),(2.091,-.317,13.4),(2.003,-.329,13.55),(2.056,-.332,13.05),(2.423,-.329,13.65),(2.385,-.342,13.25),(2.569,-.339,13.2),(2.661,-.319,12.95),
    (2.692,-.323,13.5),(2.751,-.315,13.45),(3.055,-.311,13.5),(2.897,-.337,13.55),(3.031,-.332,13.35),(2.647,-.347,13.4),(2.116,-.356,13.3),(2.044,-.367,13.5),(2.056,-.378,13.0),(2.888,-.362,13.0),
    (2.555,-.379,13.5),(2.725,-.381,13.5),(2.197,-.067,13.6),(2.258,-.069,13.75),(2.289,-.070,13.35),(2.351,-.072,13.65),(2.402,-.066,13.2),(2.461,-.074,13.55),(2.461,-.082,13.55),(2.494,-.072,13.5),
    (2.437,-.089,13.1),(2.477,-.091,13.2),(2.501,-.090,13.2),(2.416,-.093,13.5),(2.343,-.085,13.15),(2.268,-.087,13.4),(2.310,-.086,13.2),(2.382,-.079,13.2),(2.225,-.093,13.65),(2.176,-.091,13.65),
    (2.133,-.083,13.6),(2.102,-.087,13.65),(2.056,-.081,13.4),(2.049,-.072,13.7),(2.084,-.077,13.75),(2.013,-.064,13.7),(2.126,-.072,13.65),(2.152,-.073,13.8),(2.169,-.060,13.6),(2.129,-.062,13.7),
    (2.218,-.103,13.35),(2.180,-.110,13.3),(2.310,-.098,13.35),(2.345,-.102,13.3),(2.367,-.105,13.3),(2.409,-.108,13.55),(2.381,-.113,13.15),(2.427,-.110,13.1),(2.300,-.108,13.75),(2.247,-.113,13.75),
    (2.331,-.122,13.2),(2.275,-.122,13.55),(2.222,-.119,13.55),(2.176,-.120,13.65),(2.133,-.117,13.65),(2.105,-.108,13.6),(2.077,-.120,13.85),(2.034,-.104,13.75),(2.063,-.096,13.7),(2.013,-.123,13.65),
    (2.140,-.130,13.8),(2.183,-.132,13.6),(2.225,-.125,13.4),(2.251,-.131,13.35),(2.279,-.132,13.3),(2.367,-.130,13.4),(2.381,-.136,13.4),(2.385,-.142,13.3),(2.360,-.147,13.5),(2.338,-.155,13.35),
    (2.273,-.144,13.2),(2.275,-.157,13.2),(2.197,-.155,13.0),(2.169,-.147,13.6),(2.112,-.145,13.6),(2.070,-.143,13.75),(2.084,-.135,13.65),(2.049,-.134,13.55),(2.006,-.134,13.5),(2.027,-.150,13.6),
    (1.999,-.144,13.2),(2.063,-.162,13.4),(2.003,-.158,13.7),(2.126,-.158,13.5),(2.140,-.165,13.55),(2.105,-.172,13.35),(2.140,-.174,13.4),
]

far_points = [
    (3.564,.083,12.85),(3.293,.0815,13.0),(3.417,.019,13.4),(3.32,-.02,12.85),(4.307,-.025,12.95),(4.594,-.129,13.15),(3.286,-.115,13.0),(3.379,-.115,13.2),(3.388,-.161,13.25),(3.379,-.295,13.3),
    (3.22,-.397,13.45),(2.785,-.668,13.25),(2.909,-.458,13.55),(2.739,-.472,13.3),(2.512,-.468,13.55),(2.637,-.396,12.7),(2.529,-.41,13.5),(2.80,-.38,13.4),(2.74,-.405,13.35),(2.84,-.41,13.4),(2.62,-.40,13.3),(2.66,-.39,13.45),
]

# ------------------------------------------------------------------ drawing
BLACK = "black"
BLUE = "#1f77b4"
GRAY = "#808080"
FONT = "DejaVu Sans"
HIST_WIDTH = 6
DASH = [20, 10]
# Bokeh sets "alphabetic" text this fraction of the font size below the anchor
BASELINE_SHIFT = 0.39

mapper = LinearColorMapper(palette=Plasma256, low=SNR_RANGE[0], high=SNR_RANGE[1])


def style_panel(p):
    p.outline_line_color = BLACK
    p.outline_line_width = 2.2
    p.outline_line_alpha = 1
    p.grid.visible = False
    p.background_fill_color = "white"
    for ax in p.axis:
        ax.axis_line_color = None
        ax.major_tick_in = 0
        ax.major_tick_out = 10
        ax.major_tick_line_width = 2
        ax.major_tick_line_color = BLACK
        ax.minor_tick_line_color = None
        ax.major_label_text_font = FONT
        ax.major_label_text_color = BLACK


def hide_tick_labels(ax, ticks):
    ax.major_label_overrides = {t: "" for t in ticks}
    ax.major_label_text_font_size = "0px"
    ax.major_label_standoff = 0


def staircase(edges, heights):
    """Outline of a step histogram, closed down to zero at both ends."""
    edge_pts = np.repeat(edges, 2)
    height_pts = np.concatenate([[0.0], np.repeat(heights, 2), [0.0]])
    return edge_pts, height_pts


def label(p, x, y, text, size, angle=0.0, style="normal", align="left", lift=True):
    s = BASELINE_SHIFT * size if lift else 0.0
    p.add_layout(Label(x=x, y=y, text=text, x_units="data", y_units="data", angle=angle, angle_units="rad",
                       x_offset=-np.sin(angle) * s, y_offset=np.cos(angle) * s,
                       text_font=FONT, text_font_size=f"{size}px", text_font_style=style,
                       text_color=BLACK, text_align=align, text_baseline="alphabetic"))


def text_strip(width, height, x_range, y_range, **borders):
    """A bare figure that only carries text inside its own frame."""
    p = figure(frame_width=width, frame_height=height, x_range=Range1d(*x_range), y_range=Range1d(*y_range),
               toolbar_location=None, output_backend="svg", x_axis_location=None, y_axis_location=None,
               min_border_left=borders.get("left", 0), min_border_right=0, min_border_top=0, min_border_bottom=0)
    p.outline_line_color = None
    p.grid.visible = False
    return p


LEFT_GUTTER = 70
PANEL_LEFT = 96

# title strip above the top histogram
title_strip = text_strip(849, 58, Q_RANGE, (0, 58), left=PANEL_LEFT)
label(title_strip, 1.008, 11, "q", 40, style="italic")
label(title_strip, 1.165, 11, "=", 40)
label(title_strip, 1.377, 11, "1.33", 40)
label(title_strip, 1.772, 28, "+0.65", 28)
label(title_strip, 1.772, 0.5, "\u22120.30", 28)

# top histogram
top = figure(frame_width=849, frame_height=262, x_range=Range1d(*Q_RANGE), y_range=Range1d(0, 1.05),
             toolbar_location=None, output_backend="svg", y_axis_location=None,
             min_border_left=PANEL_LEFT, min_border_right=0, min_border_top=0, min_border_bottom=27)
style_panel(top)
top.xaxis.ticker = FixedTicker(ticks=q_ticks)
hide_tick_labels(top.xaxis[0], q_ticks)
q_edges = np.linspace(Q_RANGE[0], Q_RANGE[1], len(q_hist) + 1)
sx, sy = staircase(q_edges, np.array(q_hist))
top.varea(sx, np.zeros_like(sy), sy, fill_color=GRAY)
top.line(sx, sy, line_color=BLACK, line_width=HIST_WIDTH, line_join="miter")
for v in q_quantiles:
    top.line([v, v], [0, 1.05], line_color=BLUE, line_width=5.5, line_dash=DASH)

# main scatter
main = figure(frame_width=849, frame_height=788, x_range=Range1d(*Q_RANGE), y_range=Range1d(*CHI_RANGE),
              toolbar_location=None, output_backend="svg",
              min_border_left=PANEL_LEFT, min_border_right=0, min_border_top=0, min_border_bottom=105)
style_panel(main)
main.xaxis.ticker = FixedTicker(ticks=q_ticks)
main.yaxis.ticker = FixedTicker(ticks=chi_ticks)
main.xaxis.major_label_overrides = dict(zip(q_ticks, q_tick_labels))
main.yaxis.major_label_overrides = dict(zip(chi_ticks, chi_tick_labels))
main.axis.major_label_text_font_size = "27px"
main.xaxis.major_label_standoff = 12
main.yaxis.major_label_standoff = 12
main.xaxis.axis_label = "q"
main.xaxis.axis_label_text_font = FONT
main.xaxis.axis_label_text_font_style = "italic"
main.xaxis.axis_label_text_font_size = "46px"
main.xaxis.axis_label_text_color = BLACK
main.xaxis.axis_label_standoff = 9


def scatter_layer(points, size):
    ordered = sorted(points, key=lambda t: t[2])
    src = ColumnDataSource(dict(q=[t[0] for t in ordered], chi=[t[1] for t in ordered], snr=[t[2] for t in ordered]))
    main.scatter("q", "chi", source=src, size=size, line_color=None,
                 fill_color={"field": "snr", "transform": mapper})


scatter_layer(top_ring_points + side_ring_points + band_points + upper_left_points + lower_left_points
              + lower_points + right_upper_points + right_lower_points + far_points, 7)
scatter_layer(core_points, 23)
scatter_layer(texture_points + texture_points_2, 9)

for segment in (contour_90_a, contour_90_b, contour_50_a, contour_50_b):
    main.line([c[0] for c in segment], [c[1] for c in segment], line_color=BLACK, line_width=6.5, line_join="round")
label(main, 1.442, -0.094, "50%", 35, angle=np.radians(36), align="center", lift=False)
label(main, 1.759, -0.157, "90%", 35, angle=np.radians(37), align="center", lift=False)

# y label strip, left of the main panel
ylabel_strip = text_strip(LEFT_GUTTER, 788, (0, LEFT_GUTTER), CHI_RANGE)
label(ylabel_strip, 56, -0.2220, "\u03c7", 45, angle=np.pi / 2, style="italic")
label(ylabel_strip, 63, -0.1800, "eff", 31, angle=np.pi / 2)

# right histogram
side = figure(frame_width=282, frame_height=788, x_range=Range1d(0, 1.05), y_range=Range1d(*CHI_RANGE),
              toolbar_location=None, output_backend="svg", x_axis_location=None,
              min_border_left=29, min_border_right=0, min_border_top=0, min_border_bottom=0)
style_panel(side)
side.yaxis.ticker = FixedTicker(ticks=chi_ticks)
hide_tick_labels(side.yaxis[0], chi_ticks)
chi_edges = np.linspace(CHI_RANGE[0], CHI_RANGE[1], len(chi_hist_top_down) + 1)
ey, ex = staircase(chi_edges, np.array(chi_hist_top_down[::-1]))
side.harea(np.zeros_like(ex), ex, ey, fill_color=GRAY)
side.line(ex, ey, line_color=BLACK, line_width=HIST_WIDTH, line_join="miter")
for v in chi_quantiles:
    side.line([0, 1.05], [v, v], line_color=BLUE, line_width=5.5, line_dash=DASH)

# the rotated title between the right histogram and the colour bar
side_title = text_strip(80, 380, (0, 80), (-0.1166, 0.3651))
label(side_title, 26, 0.3436, "\u03c7", 41, angle=-np.pi / 2, style="italic")
label(side_title, 21, 0.3055, "eff", 29, angle=-np.pi / 2)
label(side_title, 26, 0.2434, "=", 41, angle=-np.pi / 2)
label(side_title, 26, 0.1838, "\u22120.04", 41, angle=-np.pi / 2)
label(side_title, 46, 0.0101, "+0.13", 28, angle=-np.pi / 2)
label(side_title, 17, 0.0203, "\u22120.16", 28, angle=-np.pi / 2)

# colour bar
bar = figure(frame_width=48, frame_height=1121, x_range=Range1d(0, 1), y_range=Range1d(*SNR_RANGE),
             toolbar_location=None, output_backend="svg", x_axis_location=None, y_axis_location="right",
             min_border_left=0, min_border_right=70, min_border_top=0, min_border_bottom=0)
style_panel(bar)
bar.yaxis.ticker = FixedTicker(ticks=snr_ticks)
bar.yaxis.major_label_overrides = dict(zip(snr_ticks, snr_tick_labels))
bar.yaxis.major_label_text_font_size = "21.5px"
bar.yaxis.major_label_standoff = 10
gradient = np.linspace(SNR_RANGE[0], SNR_RANGE[1], 256).reshape(256, 1)
bar.image(image=[gradient], x=0, y=SNR_RANGE[0], dw=1, dh=SNR_RANGE[1] - SNR_RANGE[0], color_mapper=mapper)

snr_strip = text_strip(50, 100, (0, 50), (0, 100))
label(snr_strip, 38, 47, "snr", 33, angle=np.pi / 2, align="center")

layout = row(
    column(Spacer(height=347, width=LEFT_GUTTER), ylabel_strip),
    column(title_strip, top, main),
    column(Spacer(height=347, width=311), side),
    column(Spacer(height=320, width=80), side_title),
    column(Spacer(height=29, width=118), bar),
    column(Spacer(height=540, width=50), snr_strip),
)
open("out.html", "w").write(file_html(layout, INLINE))
